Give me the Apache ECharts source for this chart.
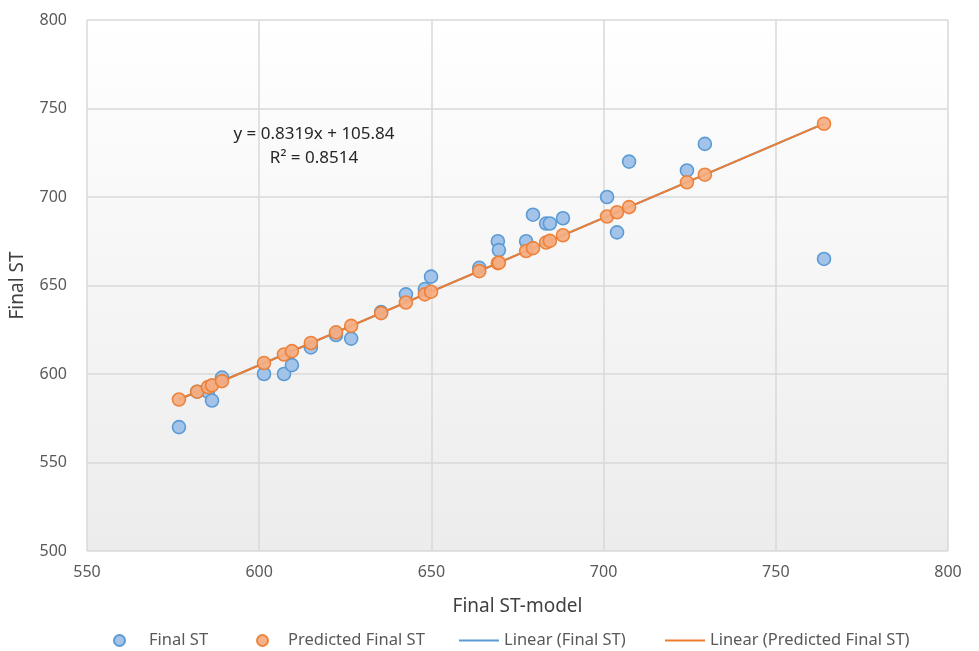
<!DOCTYPE html>
<html>
<head>
<meta charset="utf-8">
<script src="https://cdn.jsdelivr.net/npm/echarts@6/dist/echarts.min.js"></script>
<style>
  html, body { margin: 0; padding: 0; background: #ffffff; }
  #chart { width: 979px; height: 651px; }
</style>
</head>
<body>
<div id="chart"></div>
<script>
// Model output (x) for each student
const modelST = [576.7, 582.0, 585.1, 586.3, 589.2, 601.4, 607.2, 609.5, 615.0, 622.3,
                 626.7, 635.4, 642.6, 648.1, 649.9, 663.9, 669.3, 669.6, 677.5, 679.5,
                 683.3, 684.4, 688.2, 701.0, 703.9, 707.4, 724.2, 729.4, 764.0];
// Observed final score
const finalST = [570, 590, 590, 585, 598, 600, 600, 605, 615, 622,
                 620, 635, 645, 648, 655, 660, 675, 670, 675, 690,
                 685, 685, 688, 700, 680, 720, 715, 730, 665];
// Fitted final score
const predictedST = [585.6, 590.0, 592.6, 593.6, 596.0, 606.2, 611.0, 612.9, 617.5, 623.5,
                     627.2, 634.4, 640.4, 645.0, 646.5, 658.1, 662.6, 662.9, 669.5, 671.1,
                     674.3, 675.2, 678.4, 689.0, 691.4, 694.3, 708.3, 712.6, 741.4];
// Trendline coefficients as shown on the chart
const slope = 0.8319;
const intercept = 105.84;
const rSquared = 0.8514;
const xTicks = [550, 600, 650, 700, 750, 800];
const yTicks = [500, 550, 600, 650, 700, 750, 800];

const FONT = 'Noto Sans';
const TXT = '#595959';
const BLUE = '#5b9bd5', BLUE_FILL = '#a3c3e8';
const ORANGE = '#ed7d31', ORANGE_FILL = '#f4ad82';

const pairs = (xs, ys) => xs.map((x, i) => [x, ys[i]]);
const xMin = Math.min(...modelST), xMax = Math.max(...modelST);
const trend = [[xMin, slope * xMin + intercept], [xMax, slope * xMax + intercept]];

const chart = echarts.init(document.getElementById('chart'), null, { renderer: 'canvas' });

// one legend block per entry so each can sit at its own spot on the bottom row
function legendItem(name, left, icon, iconWidth, textPad, color) {
  return {
    left: left, top: 632, padding: 0,
    itemWidth: iconWidth, itemHeight: 11, itemGap: 0,
    icon: icon,
    selectedMode: false,
    data: [{ name: name, itemStyle: color ? { color: color } : undefined }],
    textStyle: { fontFamily: FONT, fontSize: 16.5, color: TXT, padding: [0, 0, 0, textPad] }
  };
}

const LINE_ICON = 'path://M0,0 L40,0 L40,2 L0,2 Z';

chart.setOption({
  animation: false,
  backgroundColor: '#ffffff',
  textStyle: { fontFamily: FONT },
  grid: {
    left: 87, right: 31, top: 20, bottom: 100,
    show: true, borderWidth: 0,
    backgroundColor: new echarts.graphic.LinearGradient(0, 0, 0, 1, [
      { offset: 0, color: '#ffffff' },
      { offset: 1, color: '#ececec' }
    ])
  },
  xAxis: {
    type: 'value', min: xTicks[0], max: xTicks[xTicks.length - 1], interval: 50,
    name: 'Final ST-model', nameLocation: 'middle', nameGap: 46,
    nameTextStyle: { fontFamily: FONT, fontSize: 19, color: '#404040' },
    axisLine: { show: false }, axisTick: { show: false },
    axisLabel: { fontFamily: FONT, fontSize: 16, color: TXT, margin: 13 },
    splitLine: { show: true, lineStyle: { color: '#d9d9d9', width: 1.5 } }
  },
  yAxis: {
    type: 'value', min: yTicks[0], max: yTicks[yTicks.length - 1], interval: 50,
    name: 'Final ST', nameLocation: 'middle', nameGap: 60, nameRotate: 90,
    nameTextStyle: { fontFamily: FONT, fontSize: 19, color: '#404040' },
    axisLine: { show: false }, axisTick: { show: false },
    axisLabel: { fontFamily: FONT, fontSize: 16, color: TXT, margin: 20 },
    splitLine: { show: true, lineStyle: { color: '#d9d9d9', width: 1.5 } }
  },
  legend: [
    legendItem('Final ST', 113, 'circle', 11, 19),
    legendItem('Predicted Final ST', 256, 'circle', 11, 15),
    legendItem('Linear (Final ST)', 459, LINE_ICON, 40, 0, BLUE),
    legendItem('Linear (Predicted Final ST)', 665, LINE_ICON, 40, 0, ORANGE)
  ],
  series: [
    {
      name: 'Linear (Final ST)', type: 'line', data: trend, symbol: 'none',
      lineStyle: { color: BLUE, width: 2 }, itemStyle: { color: BLUE }, z: 1
    },
    {
      name: 'Final ST', type: 'scatter', data: pairs(modelST, finalST),
      symbolSize: 13,
      itemStyle: { color: BLUE_FILL, borderColor: BLUE, borderWidth: 1.6, opacity: 1 },
      z: 2
    },
    {
      name: 'Linear (Predicted Final ST)', type: 'line', data: trend, symbol: 'none',
      lineStyle: { color: ORANGE, width: 2 }, itemStyle: { color: ORANGE }, z: 3
    },
    {
      name: 'Predicted Final ST', type: 'scatter', data: pairs(modelST, predictedST),
      symbolSize: 13,
      itemStyle: { color: ORANGE_FILL, borderColor: ORANGE, borderWidth: 1.6, opacity: 0.92 },
      z: 4
    }
  ],
  graphic: [
    {
      type: 'text', x: 314, y: 122, z: 10,
      style: {
        text: 'y = ' + slope + 'x + ' + intercept.toFixed(2) + '\nR² = ' + rSquared,
        fontFamily: FONT, fontSize: 17, fill: '#262626', align: 'center', lineHeight: 24
      }
    }
  ]
});
</script>
</body>
</html>
